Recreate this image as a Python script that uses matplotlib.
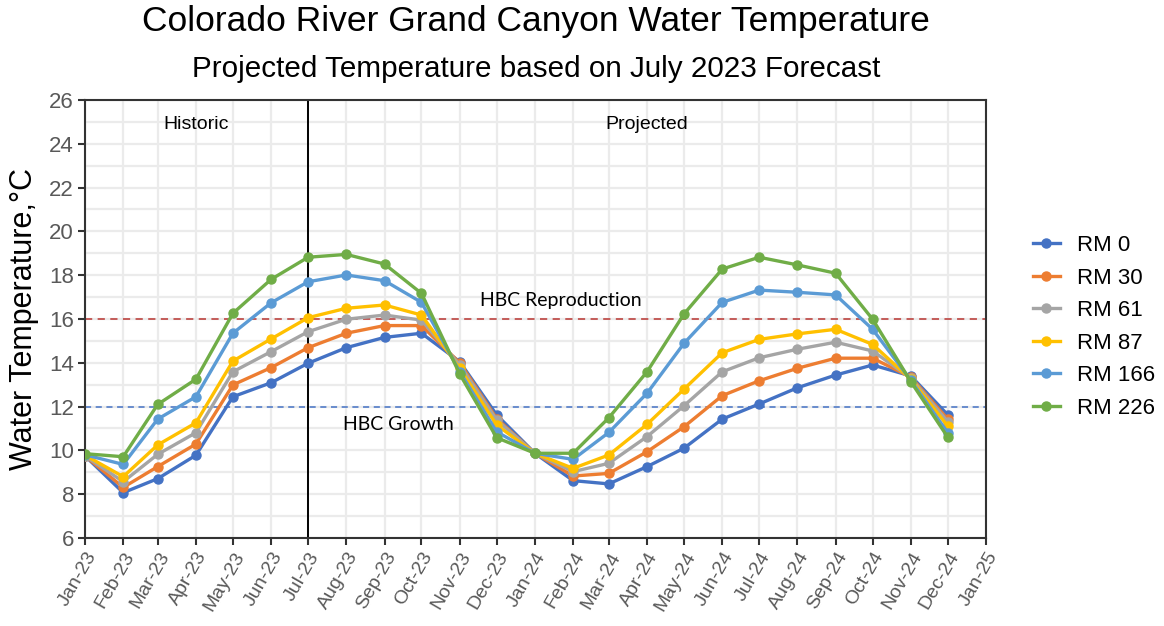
import matplotlib
matplotlib.use("Agg")
import matplotlib.pyplot as plt
import numpy as np
import pandas as pd

months = pd.date_range("2023-01-01", "2024-12-01", freq="MS")
tick_dates = pd.date_range("2023-01-01", "2025-01-01", freq="MS")

series_names = ["RM 0", "RM 30", "RM 61", "RM 87", "RM 166", "RM 226"]
rm0 = [9.75, 8.07, 8.71, 9.78, 12.45, 13.09, 13.98, 14.69, 15.16, 15.35, 14.05, 11.62,
       9.87, 8.62, 8.47, 9.26, 10.10, 11.43, 12.12, 12.86, 13.44, 13.90, 13.40, 11.62]
rm30 = [9.75, 8.31, 9.26, 10.29, 12.99, 13.78, 14.69, 15.35, 15.70, 15.70, 14.00, 11.45,
        9.87, 8.83, 8.95, 9.94, 11.08, 12.50, 13.18, 13.75, 14.21, 14.21, 13.35, 11.42]
rm61 = [9.75, 8.57, 9.82, 10.81, 13.59, 14.51, 15.42, 15.99, 16.18, 15.95, 13.90, 11.39,
        9.87, 9.03, 9.41, 10.63, 12.04, 13.59, 14.23, 14.62, 14.94, 14.54, 13.30, 11.31]
rm87 = [9.78, 8.80, 10.25, 11.26, 14.08, 15.09, 16.06, 16.49, 16.64, 16.18, 13.75, 11.16,
        9.87, 9.18, 9.79, 11.19, 12.80, 14.46, 15.07, 15.32, 15.53, 14.84, 13.25, 11.11]
rm166 = [9.80, 9.36, 11.43, 12.45, 15.35, 16.74, 17.70, 18.01, 17.75, 16.76, 13.60, 10.85,
         9.87, 9.59, 10.82, 12.61, 14.89, 16.76, 17.32, 17.22, 17.10, 15.53, 13.20, 10.81]
rm226 = [9.85, 9.71, 12.10, 13.25, 16.26, 17.81, 18.82, 18.95, 18.51, 17.17, 13.49, 10.58,
         9.87, 9.87, 11.49, 13.59, 16.23, 18.28, 18.82, 18.47, 18.09, 15.99, 13.14, 10.60]
all_series = [rm0, rm30, rm61, rm87, rm166, rm226]
colors = ["#4472C4", "#ED7D31", "#A5A5A5", "#FFC000", "#5B9BD5", "#70AD47"]

reproduction_level = 16
growth_level = 12
divider_date = pd.Timestamp("2023-07-01")

W, H = 1164, 626
fig = plt.figure(figsize=(W / 100, H / 100), dpi=100)
ax = fig.add_axes([85 / W, 1 - 538 / H, (986 - 85) / W, (538 - 100) / H])

sans = ["Liberation Sans", "DejaVu Sans"]
gray = "#595959"

# grid
for d in tick_dates:
    ax.axvline(d, color="#EBEBEB", lw=1.6, zorder=0)
for yv in range(6, 27):
    ax.axhline(yv, color="#EBEBEB", lw=1.6, zorder=0)

ax.axhline(reproduction_level, color="#C0504D", lw=1.3, ls=(0, (4, 3)), zorder=1)
ax.axhline(growth_level, color="#4472C4", lw=1.1, ls=(0, (4, 3)), zorder=1)
ax.axvline(divider_date, color="black", lw=1.4, zorder=1)

for name, vals, c in zip(series_names, all_series, colors):
    ax.plot(months, vals, color=c, lw=2.4, marker="o", ms=6.5, label=name, zorder=3)

ax.set_xlim(tick_dates[0], tick_dates[-1])
ax.set_ylim(6, 26)
ax.set_yticks(range(6, 27, 2))
ax.set_xticks(tick_dates)
ax.set_xticklabels([d.strftime("%b-%y") for d in tick_dates], rotation=60, ha="right",
                   rotation_mode="anchor", fontsize=14, color=gray, family=sans)
for lab in ax.get_yticklabels():
    lab.set_fontsize(16)
    lab.set_color(gray)
    lab.set_family(sans)
ax.tick_params(axis="both", direction="out", length=5, width=1.5, color="#333333")
ax.tick_params(axis="x", pad=3)
ax.tick_params(axis="y", pad=3)
for s in ax.spines.values():
    s.set_color("#333333")
    s.set_linewidth(1.5)

ax.set_ylabel("Water Temperature,°C", fontsize=22, family=sans, labelpad=7)

fig.text(536 / W, 1 - 22 / H, "Colorado River Grand Canyon Water Temperature",
         ha="center", va="center", fontsize=25.5, family=sans)
fig.text(536 / W, 1 - 69 / H, "Projected Temperature based on July 2023 Forecast",
         ha="center", va="center", fontsize=21.3, family=sans)

ax.text(pd.Timestamp("2023-04-01"), 24.9, "Historic", ha="center", va="center",
        fontsize=14, family=sans)
ax.text(pd.Timestamp("2024-04-01"), 24.9, "Projected", ha="center", va="center",
        fontsize=14, family=sans)
ax.text(pd.Timestamp("2024-01-22"), 16.85, "HBC Reproduction", ha="center", va="center",
        fontsize=14, family=["Lato", "DejaVu Sans"])
ax.text(pd.Timestamp("2023-09-12"), 11.2, "HBC Growth", ha="center", va="center",
        fontsize=14, family=["Lato", "DejaVu Sans"])

leg = ax.legend(loc="center left", bbox_to_anchor=(1.03, 0.482), frameon=False,
                prop={"family": sans, "size": 16}, handlelength=1.2, labelspacing=0.52,
                handletextpad=0.8)
for h in leg.legend_handles:
    h.set_markersize(6.5)

fig.savefig("out.png", dpi=100)
